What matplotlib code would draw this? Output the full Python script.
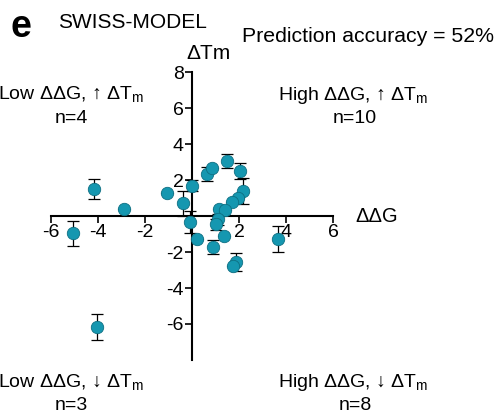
import matplotlib
matplotlib.use('Agg')
import matplotlib.pyplot as plt
import numpy as np

plt.rcParams['font.family'] = ['Liberation Sans', 'DejaVu Sans']
plt.rcParams['axes.unicode_minus'] = False

# ddG (x), dTm (y), dTm error
ddg = [-4.15, -2.89, -5.07, -1.07, -0.40, 0.00, -0.07, 0.23, 0.62, 0.85,
       1.51, 2.05, 2.18, 1.97, 1.71, 1.16, 1.40, 1.12, 1.03, 1.36,
       0.91, 3.67, 1.88, 1.73, -4.05]
dtm = [1.50, 0.37, -0.96, 1.26, 0.70, 1.69, -0.33, -1.26, 2.33, 2.67,
       3.04, 2.50, 1.39, 1.02, 0.80, 0.41, 0.33, -0.19, -0.46, -1.11,
       -1.72, -1.26, -2.54, -2.80, -6.15]
err = [0.58, 0.0, 0.70, 0.0, 0.70, 0.30, 0.60, 0.0, 0.37, 0.0,
       0.38, 0.43, 0.70, 0.0, 0.0, 0.0, 0.0, 0.30, 0.30, 0.0,
       0.40, 0.72, 0.50, 0.0, 0.72]

xticks = [-6, -4, -2, 2, 4, 6]
yticks = [-6, -4, -2, 2, 4, 6, 8]

fig = plt.figure(figsize=(5, 4.17), dpi=100)
ax = fig.add_axes([0.1014, 0.1367, 0.565, 0.6906])

ax.errorbar(ddg, dtm, yerr=err, fmt='none', ecolor='black', elinewidth=0.9,
            capsize=4, capthick=0.9, zorder=2)
ax.scatter(ddg, dtm, s=80, color='#1597b0', edgecolors='#0e6f82',
           linewidths=0.6, zorder=3)

ax.set_xlim(-6, 6)
ax.set_ylim(-8, 8)
ax.spines['left'].set_position(('data', 0))
ax.spines['bottom'].set_position(('data', 0))
ax.spines['right'].set_visible(False)
ax.spines['top'].set_visible(False)
ax.spines['left'].set_linewidth(1.5)
ax.spines['bottom'].set_linewidth(1.5)
ax.set_xticks(xticks)
ax.set_yticks(yticks)
ax.tick_params(direction='out', length=5, width=1.2, labelsize=14, pad=1)
ax.patch.set_alpha(0)

fig.text(0.022, 0.935, 'e', fontsize=27, fontweight='bold', va='center')
fig.text(0.116, 0.946, 'SWISS-MODEL', fontsize=15, va='center')
fig.text(0.484, 0.913, 'Prediction accuracy = 52%', fontsize=15.3, va='center')
fig.text(0.372, 0.872, 'ΔTm', fontsize=15, va='center')
fig.text(0.71, 0.482, 'ΔΔG', fontsize=14.5, va='center')

lbl = dict(fontsize=14, ha='center', va='center')
fig.text(0.142, 0.772, 'Low ΔΔG, ↑ ΔT$_\\mathregular{m}$', **lbl)
fig.text(0.142, 0.717, 'n=4', **lbl)
fig.text(0.707, 0.772, 'High ΔΔG, ↑ ΔT$_\\mathregular{m}$', **lbl)
fig.text(0.71, 0.717, 'n=10', **lbl)
fig.text(0.142, 0.082, 'Low ΔΔG, ↓ ΔT$_\\mathregular{m}$', **lbl)
fig.text(0.142, 0.028, 'n=3', **lbl)
fig.text(0.707, 0.082, 'High ΔΔG, ↓ ΔT$_\\mathregular{m}$', **lbl)
fig.text(0.71, 0.028, 'n=8', **lbl)

fig.savefig('out.png', dpi=100)
